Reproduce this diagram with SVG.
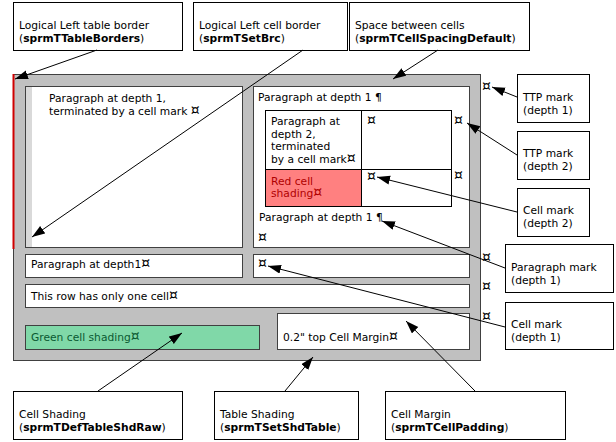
<svg xmlns="http://www.w3.org/2000/svg" width="616" height="442" viewBox="0 0 616 442">
<style>
text{font-family:"DejaVu Sans","Verdana",sans-serif;font-size:10.7px;fill:#000}
.b{font-weight:bold}
.c{font-size:14px}
.callout{fill:#fff;stroke:#000;stroke-width:1}
.cell{fill:#fff;stroke:#404040;stroke-width:1}
.conn{stroke:#000;stroke-width:1;fill:none;marker-end:url(#ah)}
</style>
<defs>
<marker id="ah" markerUnits="userSpaceOnUse" markerWidth="14" markerHeight="10" refX="13" refY="4.5" orient="auto">
<path d="M0,0 L13,4.5 L0,9 z" fill="#000"/>
</marker>
</defs>
<rect width="616" height="442" fill="#fff"/>

<g id="table">
<rect x="13.5" y="74.5" width="467" height="286" fill="#c0c0c0" stroke="#404040"/>
<line x1="13.5" y1="74" x2="13.5" y2="249" stroke="#d00000" stroke-width="2"/>
</g>

<g id="cell1">
<rect class="cell" x="25.5" y="86.5" width="217" height="161"/>
<rect x="26" y="87" width="6" height="160" fill="#d9d9d9"/>
<text x="49" y="102">Paragraph at depth 1,</text>
<text x="49" y="115">terminated by a cell mark <tspan class="c">¤</tspan></text>
</g>

<g id="cell2">
<rect class="cell" x="253.5" y="86.5" width="216" height="161"/>
<text x="258" y="101">Paragraph at depth 1 ¶</text>
<text x="259" y="221">Paragraph at depth 1 ¶</text>
<text class="c" x="258" y="242">¤</text>
</g>

<g id="nested">
<rect x="265.5" y="110.5" width="186" height="96" fill="#fff" stroke="#000"/>
<rect x="265.5" y="169.5" width="96" height="37" fill="#ff8080" stroke="#000"/>
<line x1="361.5" y1="110.5" x2="361.5" y2="206.5" stroke="#000"/>
<line x1="361.5" y1="169.5" x2="451.5" y2="169.5" stroke="#000"/>
<text x="271" y="125">Paragraph at</text>
<text x="271" y="138">depth 2,</text>
<text x="271" y="150">terminated</text>
<text x="271" y="163">by a cell mark<tspan class="c">¤</tspan></text>
<text class="c" x="367" y="125">¤</text>
<text x="271" y="185" style="fill:#b00000">Red cell</text>
<text x="271" y="197" style="fill:#b00000">shading<tspan class="c" style="fill:#b00000">¤</tspan></text>
<text class="c" x="367" y="181">¤</text>
<text class="c" x="454" y="125">¤</text>
<text class="c" x="454" y="180">¤</text>
</g>

<g id="row2">
<rect class="cell" x="25.5" y="254.5" width="217" height="23"/>
<text x="31" y="268">Paragraph at depth1<tspan class="c">¤</tspan></text>
<rect class="cell" x="253.5" y="254.5" width="216" height="23"/>
<text class="c" x="258" y="268">¤</text>
</g>

<g id="row3">
<rect class="cell" x="25.5" y="284.5" width="444" height="23"/>
<text x="31" y="300">This row has only one cell<tspan class="c">¤</tspan></text>
</g>

<g id="row4">
<rect x="25.5" y="325.5" width="234" height="24" fill="#80d8a8" stroke="#404040"/>
<text x="31" y="341" style="fill:#0a5a32">Green cell shading<tspan class="c" style="fill:#0a5a32">¤</tspan></text>
<rect class="cell" x="277.5" y="313.5" width="192" height="36"/>
<text x="283" y="341">0.2" top Cell Margin<tspan class="c">¤</tspan></text>
</g>

<g id="ttpmarks">
<text class="c" x="482" y="91">¤</text>
<text class="c" x="482" y="262">¤</text>
<text class="c" x="482" y="291">¤</text>
<text class="c" x="482" y="321">¤</text>
</g>

<g id="c-left-table-border">
<rect class="callout" x="13.5" y="2.5" width="169" height="48"/>
<text x="19" y="29">Logical Left table border</text>
<text x="19" y="42">(<tspan class="b">sprmTTableBorders</tspan>)</text>
</g>
<g id="c-left-cell-border">
<rect class="callout" x="193.5" y="2.5" width="154" height="48"/>
<text x="199" y="29">Logical Left cell border</text>
<text x="199" y="42">(<tspan class="b">sprmTSetBrc</tspan>)</text>
</g>
<g id="c-spacing">
<rect class="callout" x="349.5" y="2.5" width="180" height="48"/>
<text x="355" y="29">Space between cells</text>
<text x="355" y="42">(<tspan class="b">sprmTCellSpacingDefault</tspan>)</text>
</g>
<g id="c-ttp1">
<rect class="callout" x="517.5" y="74.5" width="72" height="48"/>
<text x="523" y="101">TTP mark</text>
<text x="523" y="114">(depth 1)</text>
</g>
<g id="c-ttp2">
<rect class="callout" x="517.5" y="131.5" width="72" height="48"/>
<text x="523" y="157">TTP mark</text>
<text x="523" y="170">(depth 2)</text>
</g>
<g id="c-cell2">
<rect class="callout" x="517.5" y="188.5" width="72" height="48"/>
<text x="523" y="214">Cell mark</text>
<text x="523" y="227">(depth 2)</text>
</g>
<g id="c-para1">
<rect class="callout" x="505.5" y="244.5" width="108" height="48"/>
<text x="511" y="271">Paragraph mark</text>
<text x="511" y="284">(depth 1)</text>
</g>
<g id="c-cell1">
<rect class="callout" x="505.5" y="302.5" width="108" height="47"/>
<text x="511" y="328">Cell mark</text>
<text x="511" y="341">(depth 1)</text>
</g>
<g id="c-cellshading">
<rect class="callout" x="13.5" y="391.5" width="169" height="48"/>
<text x="19" y="418">Cell Shading</text>
<text x="19" y="431">(<tspan class="b">sprmTDefTableShdRaw</tspan>)</text>
</g>
<g id="c-tableshading">
<rect class="callout" x="214.5" y="391.5" width="144" height="48"/>
<text x="220" y="418">Table Shading</text>
<text x="220" y="431">(<tspan class="b">sprmTSetShdTable</tspan>)</text>
</g>
<g id="c-cellmargin">
<rect class="callout" x="385.5" y="391.5" width="180" height="48"/>
<text x="391" y="418">Cell Margin</text>
<text x="391" y="431">(<tspan class="b">sprmTCellPadding</tspan>)</text>
</g>

<g id="connectors">
<line class="conn" x1="97" y1="50" x2="15" y2="79"/>
<line class="conn" x1="303" y1="50" x2="32" y2="237"/>
<line class="conn" x1="438" y1="50" x2="393" y2="79"/>
<line class="conn" x1="517" y1="97" x2="492" y2="87"/>
<line class="conn" x1="517" y1="155" x2="467" y2="123"/>
<line class="conn" x1="517" y1="212" x2="377" y2="177"/>
<line class="conn" x1="505" y1="268" x2="382" y2="221"/>
<line class="conn" x1="505" y1="327" x2="268" y2="266"/>
<line class="conn" x1="98" y1="391" x2="182" y2="333"/>
<line class="conn" x1="285" y1="391" x2="313" y2="357"/>
<line class="conn" x1="475" y1="391" x2="406" y2="321"/>
</g>
</svg>
